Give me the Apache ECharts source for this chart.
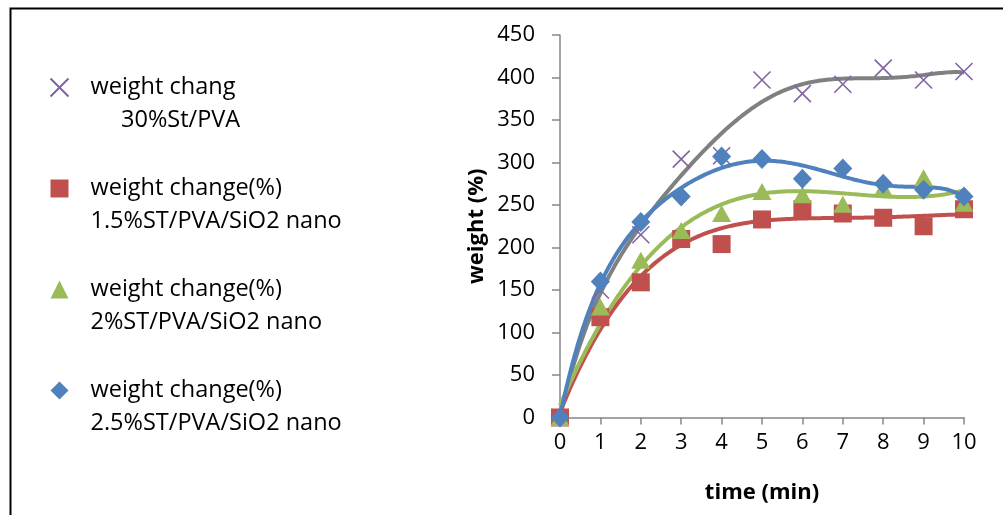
<!DOCTYPE html>
<html>
<head>
<meta charset="utf-8">
<script src="https://cdn.jsdelivr.net/npm/echarts@6/dist/echarts.min.js"></script>
<style>html,body{margin:0;padding:0;background:#fff}#c{width:1003px;height:515px}</style>
</head>
<body>
<div id="c"></div>
<script>
const times = [0,1,2,3,4,5,6,7,8,9,10];
const names = [
  'weight chang\n     30%St/PVA',
  'weight change(%)\n1.5%ST/PVA/SiO2 nano',
  'weight change(%)\n2%ST/PVA/SiO2 nano',
  'weight change(%)\n2.5%ST/PVA/SiO2 nano'
];
const st30 = [0,150,215,304,308,397,381,392,411,397,407];
const st15 = [0,118,159,210,204,233,245,240,235,225,245];
const st20 = [0,130,185,220,240,266,262,251,270,282,252];
const st25 = [0,160,230,260,307,304,281,293,275,268,260];
const yTicks = [0,50,100,150,200,250,300,350,400,450];
const xTicks = [0,1,2,3,4,5,6,7,8,9,10];

function polyFit(xs, ys, order){
  const n = order+1;
  const A = [];
  for(let i=0;i<n;i++){A.push(new Array(n+1).fill(0));}
  for(let k=0;k<xs.length;k++){
    const x = xs[k]/10;
    for(let i=0;i<n;i++){
      for(let j=0;j<n;j++) A[i][j]+=Math.pow(x,i+j);
      A[i][n]+=ys[k]*Math.pow(x,i);
    }
  }
  for(let i=0;i<n;i++){
    let p=i;
    for(let r=i+1;r<n;r++) if(Math.abs(A[r][i])>Math.abs(A[p][i])) p=r;
    [A[i],A[p]]=[A[p],A[i]];
    for(let r=0;r<n;r++){
      if(r===i) continue;
      const f=A[r][i]/A[i][i];
      for(let c=i;c<=n;c++) A[r][c]-=f*A[i][c];
    }
  }
  const coef=A.map((row,i)=>row[n]/row[i]);
  const pts=[];
  for(let t=0;t<=200;t++){
    const x=t/20; let y=0;
    for(let i=0;i<n;i++) y+=coef[i]*Math.pow(x/10,i);
    pts.push([x,y]);
  }
  return pts;
}
const pair = v => times.map((t,i)=>[t,v[i]]);

const chart = echarts.init(document.getElementById('c'));
const font = 'Open Sans';
const lineW = 4;
chart.setOption({
  animation:false,
  graphic:[{type:'rect',left:8,top:6,shape:{width:1200,height:700},style:{fill:'none',stroke:'#000',lineWidth:2},z:-1}],
  legend:{
    orient:'vertical', left:43, top:33, itemGap:2, itemWidth:18, itemHeight:18,
    data:names,
    formatter: n => ' \n' + n,
    textStyle:{fontFamily:font,fontSize:23.5,color:'#000',lineHeight:33,padding:[0,0,0,17]}
  },
  grid:{left:560,right:39,top:35,bottom:97.5},
  xAxis:{type:'value',min:0,max:10,interval:1,
    name:'time (min)',nameLocation:'middle',nameGap:64,
    nameTextStyle:{fontFamily:font,fontSize:22,fontWeight:'bold',color:'#000'},
    axisLine:{lineStyle:{color:'#868686',width:1.5}},
    axisTick:{show:true,length:7,lineStyle:{color:'#868686',width:1.5}},
    axisLabel:{fontFamily:font,fontSize:22,color:'#000',margin:14,
      formatter:v=>xTicks.includes(v)?String(v):''},
    splitLine:{show:false}},
  yAxis:{type:'value',min:0,max:450,interval:50,
    name:'weight (%)',nameLocation:'middle',nameGap:72,nameRotate:90,
    nameTextStyle:{fontFamily:font,fontSize:22,fontWeight:'bold',color:'#000'},
    axisLine:{show:true,lineStyle:{color:'#868686',width:1.5}},
    axisTick:{show:true,length:8,lineStyle:{color:'#868686',width:1.5}},
    axisLabel:{fontFamily:font,fontSize:22,color:'#000',margin:25,
      formatter:v=>yTicks.includes(v)?String(v):''},
    splitLine:{show:false}},
  series:[
    {type:'line',data:polyFit(times,st30,6),showSymbol:false,smooth:false,lineStyle:{color:'#808080',width:lineW},z:3,silent:true},
    {type:'line',data:polyFit(times,st15,4),showSymbol:false,lineStyle:{color:'#C0504D',width:lineW},z:3,silent:true},
    {type:'line',data:polyFit(times,st20,3),showSymbol:false,lineStyle:{color:'#9BBB59',width:lineW},z:3,silent:true},
    {type:'line',data:polyFit(times,st25,6),showSymbol:false,lineStyle:{color:'#4F81BD',width:lineW},z:3,silent:true},
    {name:names[0],type:'scatter',data:pair(st30),symbol:'path://M0,0L10,10M10,0L0,10',symbolSize:17,
      itemStyle:{color:'none',borderColor:'#8064A2',borderWidth:1.6,opacity:1},z:4},
    {name:names[1],type:'scatter',data:pair(st15),symbol:'rect',symbolSize:18,itemStyle:{color:'#C0504D',opacity:1},z:4},
    {name:names[2],type:'scatter',data:pair(st20),symbol:'triangle',symbolSize:[19,17],itemStyle:{color:'#9BBB59',opacity:1},z:4},
    {name:names[3],type:'scatter',data:pair(st25),symbol:'diamond',symbolSize:[19,20],itemStyle:{color:'#4F81BD',opacity:1},z:4}
  ]
});
</script>
</body>
</html>
